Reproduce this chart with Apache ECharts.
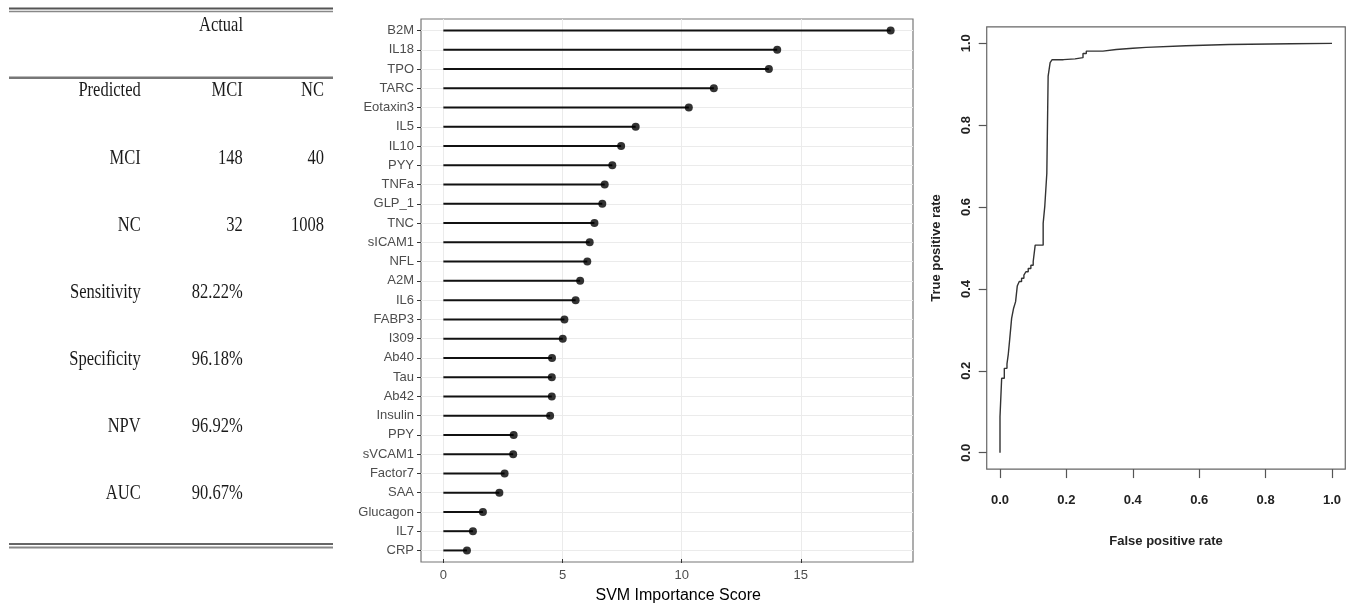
<!DOCTYPE html>
<html>
<head>
<meta charset="utf-8">
<script src="https://cdn.jsdelivr.net/npm/echarts@6/dist/echarts.min.js"></script>
<style>
html, body { margin: 0; padding: 0; background: #fff; }
#main { width: 1350px; height: 609px; }
</style>
</head>
<body>
<div id="main"></div>
<script>
// confusion table
var tableHead = ['Predicted', 'MCI', 'NC'];
var rowNames = ['MCI', 'NC'];
var colMCI = ['148', '32'];
var colNC = ['40', '1008'];
var metricNames = ['Sensitivity', 'Specificity', 'NPV', 'AUC'];
var metricValues = ['82.22%', '96.18%', '96.92%', '90.67%'];

// SVM importance, top to bottom
var markers = ['B2M', 'IL18', 'TPO', 'TARC', 'Eotaxin3', 'IL5', 'IL10', 'PYY', 'TNFa', 'GLP_1',
    'TNC', 'sICAM1', 'NFL', 'A2M', 'IL6', 'FABP3', 'I309', 'Ab40', 'Tau', 'Ab42',
    'Insulin', 'PPY', 'sVCAM1', 'Factor7', 'SAA', 'Glucagon', 'IL7', 'CRP'];
var scores = [18.77, 14.01, 13.66, 11.35, 10.30, 8.07, 7.46, 7.09, 6.77, 6.67,
    6.34, 6.14, 6.04, 5.74, 5.55, 5.08, 5.01, 4.56, 4.55, 4.55,
    4.48, 2.95, 2.93, 2.57, 2.35, 1.66, 1.24, 0.99];
var scoreTicks = [0, 5, 10, 15];

// ROC curve (step points)
var fpr = [0, 0, 0.005, 0.013, 0.021, 0.025, 0.029, 0.035, 0.041, 0.047,
    0.052, 0.058, 0.065, 0.072, 0.078, 0.085, 0.093, 0.100, 0.106, 0.130,
    0.135, 0.141, 0.145, 0.151, 0.157, 0.191, 0.226, 0.250, 0.260, 0.310,
    0.350, 0.400, 0.440, 0.560, 0.690, 1.0];
var tpr = [0, 0.088, 0.182, 0.206, 0.217, 0.241, 0.275, 0.328, 0.353, 0.369,
    0.407, 0.418, 0.426, 0.434, 0.442, 0.450, 0.458, 0.467, 0.507, 0.560,
    0.603, 0.682, 0.920, 0.953, 0.960, 0.962, 0.965, 0.975, 0.981, 0.985,
    0.988, 0.990, 0.994, 0.997, 1.0, 1.0];

var myChart = echarts.init(document.getElementById('main'));

// lollipop panel layout (ggplot style expansion)
var maxScore = Math.max.apply(null, scores);
var xMin = -maxScore * 0.05, xMax = maxScore * 1.05;
var pL = 421, pT = 19, pW = 492, pH = 543;
var innerL = pL + pW * (0 - xMin) / (xMax - xMin);
var band = pH / (markers.length - 1 + 1.2);
var catTop = pT + band * 0.6;
var catH = band * (markers.length - 1);

// ROC panel layout (R style 4% expansion)
var rL = 1000, rT = 43.3, rW = 332, rH = 409.4;
var fL = rL - 0.04 * rW, fT = rT - 0.04 * rH, fW = rW * 1.08, fH = rH * 1.08;

var sans = "'Liberation Sans', Arial, sans-serif";
var serif = "'Liberation Serif', 'Times New Roman', serif";

// table graphics
var tbl = [];
var colX = [140.7, 242.7, 324];
function cell(txt, x, y, align) {
    tbl.push({
        type: 'text', x: x, y: y, scaleX: 0.75,
        style: { text: txt, fontSize: 22, fontFamily: serif, fill: '#1a1a1a',
            align: align || 'right', verticalAlign: 'middle' }
    });
}
function rule(y, w, c) {
    tbl.push({ type: 'line', shape: { x1: 9, y1: y, x2: 333, y2: y },
        style: { stroke: c, lineWidth: w } });
}
rule(8.5, 2.2, '#555');
rule(11.5, 1.5, '#888');
rule(77.7, 2.5, '#777');
rule(544, 2, '#666');
rule(547.5, 2, '#888');
cell('Actual', 221, 25, 'center');
tableHead.forEach(function (t, i) { cell(t, colX[i], 90.7); });
var rowStep = 67.1;
rowNames.forEach(function (t, i) {
    var y = 90.7 + rowStep * (i + 1);
    cell(t, colX[0], y); cell(colMCI[i], colX[1], y); cell(colNC[i], colX[2], y);
});
metricNames.forEach(function (t, i) {
    var y = 90.7 + rowStep * (i + 3);
    cell(t, colX[0], y); cell(metricValues[i], colX[1], y);
});

var rocData = fpr.map(function (x, i) { return [x, tpr[i]]; });
var rocFont = { color: '#222', fontSize: 13, fontWeight: 'bold', fontFamily: sans };

option = {
    animation: false,
    backgroundColor: '#fff',
    graphic: tbl,
    grid: [
        { left: pL, top: pT, width: pW, height: pH, show: true, borderColor: '#777', borderWidth: 1.2, backgroundColor: 'transparent' },
        { left: pL, top: catTop, width: pW, height: catH },
        { left: innerL, top: pT, width: pL + pW - innerL, height: pH },
        { left: fL, top: fT, width: fW, height: fH, show: true, borderColor: '#666', borderWidth: 1.2, backgroundColor: 'transparent' },
        { left: rL, top: rT, width: rW, height: rH }
    ],
    xAxis: [
        { gridIndex: 0, type: 'value', show: false, min: 0, max: 1 },
        { gridIndex: 1, type: 'value', show: false, min: xMin, max: xMax },
        {
            gridIndex: 2, type: 'value', min: 0, max: xMax, interval: 2.5,
            axisLine: { show: false, onZero: false },
            axisTick: { show: true, length: 4, lineStyle: { color: '#333' }, customValues: scoreTicks },
            axisLabel: { color: '#4d4d4d', fontSize: 13, fontFamily: sans, margin: 10, customValues: scoreTicks },
            splitLine: { show: true, lineStyle: { color: '#ebebeb', width: 1 } },
            name: 'SVM Importance Score', nameLocation: 'middle', nameGap: 29,
            nameTextStyle: { color: '#000', fontSize: 16, fontFamily: sans }
        },
        { gridIndex: 3, type: 'value', show: false, min: 0, max: 1 },
        {
            gridIndex: 4, type: 'value', min: 0, max: 1, interval: 0.2, offset: fT + fH - (rT + rH),
            axisLine: { show: false, onZero: false },
            axisTick: { show: true, length: 9, lineStyle: { color: '#555', width: 1.2 } },
            axisLabel: Object.assign({ margin: 25, formatter: function (v) { return v.toFixed(1); } }, rocFont),
            splitLine: { show: false },
            name: 'False positive rate', nameLocation: 'middle', nameGap: 66,
            nameTextStyle: rocFont
        }
    ],
    yAxis: [
        { gridIndex: 0, type: 'value', show: false, min: 0, max: 1 },
        {
            gridIndex: 1, type: 'category', data: markers, inverse: true, boundaryGap: false,
            axisLine: { show: false, onZero: false },
            axisTick: { show: true, length: 4, interval: 0, lineStyle: { color: '#333' } },
            axisLabel: { color: '#4d4d4d', fontSize: 13, fontFamily: sans, margin: 7, interval: 0 },
            splitLine: { show: true, interval: 0, lineStyle: { color: '#ebebeb', width: 1.2 } }
        },
        { gridIndex: 2, type: 'value', show: false, min: 0, max: 1 },
        { gridIndex: 3, type: 'value', show: false, min: 0, max: 1 },
        {
            gridIndex: 4, type: 'value', min: 0, max: 1, interval: 0.2, offset: rL - fL,
            axisLine: { show: false, onZero: false },
            axisTick: { show: true, length: 8, lineStyle: { color: '#555', width: 1.2 } },
            axisLabel: Object.assign({ margin: 14, rotate: 90, formatter: function (v) { return v.toFixed(1); } }, rocFont),
            splitLine: { show: false },
            name: 'True positive rate', nameLocation: 'middle', nameGap: 44,
            nameTextStyle: rocFont
        }
    ],
    series: [
        {
            name: 'stem', type: 'bar', xAxisIndex: 1, yAxisIndex: 1,
            data: scores, barWidth: 2, silent: true,
            itemStyle: { color: '#111' }
        },
        {
            name: 'score', type: 'scatter', xAxisIndex: 1, yAxisIndex: 1,
            data: scores, symbolSize: 8, silent: true,
            itemStyle: { color: '#000' }
        },
        {
            name: 'ROC', type: 'line', xAxisIndex: 4, yAxisIndex: 4,
            data: rocData, step: 'end', showSymbol: false, silent: true,
            lineStyle: { color: '#333', width: 1.4 }
        }
    ]
};

myChart.setOption(option);
</script>
</body>
</html>
